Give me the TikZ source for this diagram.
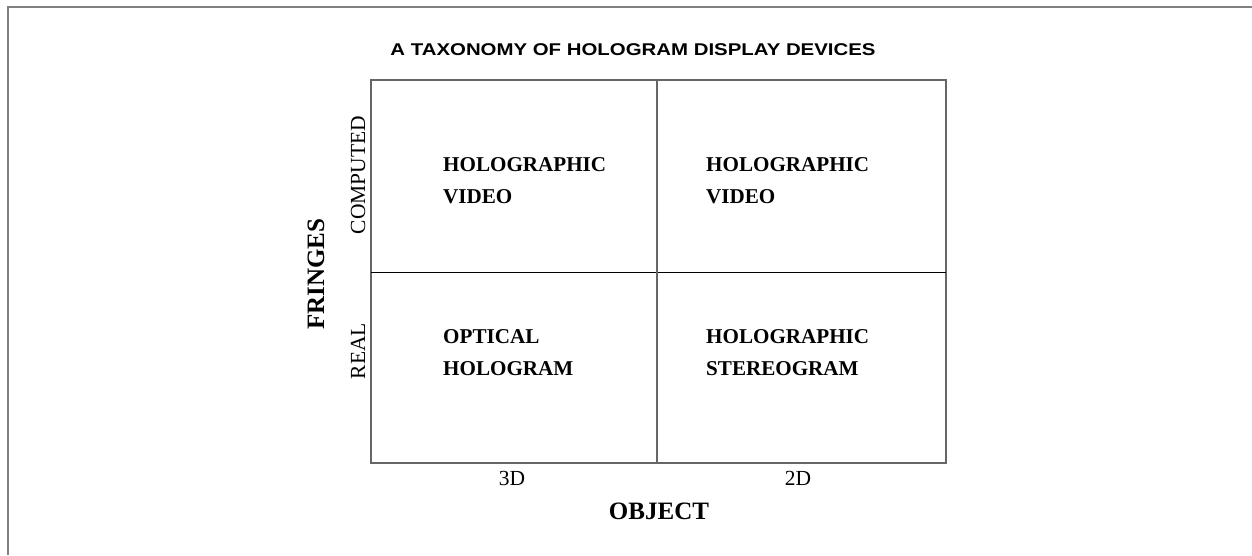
\documentclass[tikz,border=0pt]{standalone}
\usepackage{fontspec}
\setmainfont{Liberation Serif}
\newfontfamily\headfont[FakeStretch=1.2]{Liberation Sans}
\begin{document}
\begin{tikzpicture}[x=1pt,y=-1pt,
  frameline/.style={draw=black!50,line width=2pt},
  gridline/.style={draw=black!60,line width=1.6pt},
  midline/.style={draw=black,line width=1pt},
  celltext/.style={font=\fontsize{21.1}{32}\selectfont\bfseries,anchor=base west,inner sep=0pt},
  axistext/.style={font=\fontsize{21.5}{24}\selectfont,anchor=base,inner sep=0pt},
  axistitle/.style={font=\fontsize{25}{28}\selectfont\bfseries,anchor=base,inner sep=0pt}]
\useasboundingbox (0,0) rectangle (1252,555);
% partial outer frame
\coordinate (fb) at (8,555);
\coordinate (fc) at (8,7);
\coordinate (fr) at (1252,7);
\draw[frameline] (fb) -- (fc) -- (fr);
% title
\node[font=\fontsize{17}{20}\selectfont\headfont\bfseries,anchor=base,inner sep=0pt] (title) at (633,55) {A TAXONOMY OF HOLOGRAM DISPLAY DEVICES};
% grid corners and dividers
\coordinate (nw) at (371,80);
\coordinate (se) at (946,463);
\coordinate (vt) at (657,80);
\coordinate (vb) at (657,463);
\coordinate (hl) at (371,272);
\coordinate (hr) at (946,272);
\draw[gridline] (nw) rectangle (se);
\draw[midline] (hl) -- (hr);
\draw[gridline] (vt) -- (vb);
% cell contents
\node[celltext] (c1) at (443,171) {HOLOGRAPHIC};
\node[celltext] (c1b) at (443,203) {VIDEO};
\node[celltext] (c2) at (706,171) {HOLOGRAPHIC};
\node[celltext] (c2b) at (706,203) {VIDEO};
\node[celltext] (c3) at (443,343) {OPTICAL};
\node[celltext] (c3b) at (443,375) {HOLOGRAM};
\node[celltext] (c4) at (706,343) {HOLOGRAPHIC};
\node[celltext] (c4b) at (706,375) {STEREOGRAM};
% axis labels
\node[axistext,rotate=90] (computed) at (365,175) {COMPUTED};
\node[axistext,rotate=90] (real) at (365,351) {REAL};
\node[axistitle,rotate=90] (fringes) at (324,274) {FRINGES};
\node[axistext] (d3) at (512,485) {3D};
\node[axistext] (d2) at (798,485) {2D};
\node[axistitle] (object) at (659,519) {OBJECT};
\end{tikzpicture}
\end{document}
